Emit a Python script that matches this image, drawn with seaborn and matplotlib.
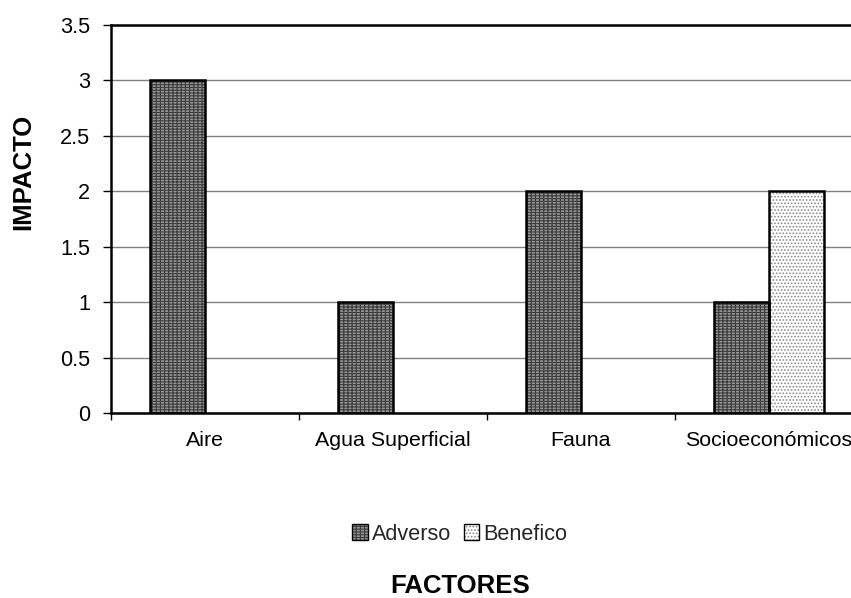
import matplotlib
matplotlib.use('Agg')
import matplotlib.pyplot as plt
import seaborn as sns
import pandas as pd
from matplotlib.patches import Rectangle, Patch
from matplotlib.ticker import FixedLocator
from matplotlib.legend_handler import HandlerTuple

categories = ['Aire', 'Agua Superficial', 'Fauna', 'Socioeconómicos']
series = ['Adverso', 'Benefico']
adverso = [3, 1, 2, 1]
benefico = [0, 0, 0, 2]
y_ticks = [0, 0.5, 1, 1.5, 2, 2.5, 3, 3.5]
y_tick_labels = ['0', '0.5', '1', '1.5', '2', '2.5', '3', '3.5']

df = pd.DataFrame({
    'Factor': categories * 2,
    'Serie': [series[0]] * len(categories) + [series[1]] * len(categories),
    'Impacto': adverso + benefico,
})

sns.set_theme(style='white')
plt.rcParams['font.family'] = ['Liberation Sans', 'DejaVu Sans']
plt.rcParams['hatch.linewidth'] = 0.8

W, H = 851, 598
fig = plt.figure(figsize=(W / 100, H / 100), dpi=100)
fig.patch.set_facecolor('white')
ax = fig.add_axes([111 / W, (H - 413) / H, (863 - 111) / W, (413 - 25) / H])

face = {'Adverso': '#969696', 'Benefico': '#ffffff'}
hcol = {'Adverso': '#3c3c3c', 'Benefico': '#8a8a8a'}
hatch = {'Adverso': '++++--', 'Benefico': '.....'}

sns.barplot(data=df, x='Factor', y='Impacto', hue='Serie', order=categories,
            hue_order=series, palette=[face[s] for s in series], width=0.58,
            gap=0, errorbar=None, saturation=1, legend=False, ax=ax, zorder=3)

for cont, s in zip(ax.containers, series):
    for p in cont.patches:
        p.set_facecolor(face[s])
        p.set_edgecolor(hcol[s])
        p.set_linewidth(0)
        p.set_hatch(hatch[s])
        if p.get_height() > 0:
            ax.add_patch(Rectangle(p.get_xy(), p.get_width(), p.get_height(),
                                   fill=False, edgecolor='black', linewidth=1.8,
                                   zorder=4))

ax.set_xlim(-0.5, len(categories) - 0.5)
ax.set_ylim(0, 3.5)
ax.set_yticks(y_ticks)
ax.set_yticklabels(y_tick_labels)
ax.yaxis.grid(True, color='#808080', linewidth=1.0, zorder=0)
ax.set_axisbelow(True)
ax.xaxis.set_minor_locator(FixedLocator([i - 0.5 for i in range(len(categories) + 1)]))
ax.tick_params(axis='x', which='major', length=0, pad=13, labelsize=15.4, colors='black')
ax.tick_params(axis='x', which='minor', length=5, width=1, color='black', direction='out', bottom=True)
ax.tick_params(axis='y', which='major', length=6, width=1, color='black', direction='out',
               left=True, pad=9, labelsize=15.6, labelcolor='black')
ax.set_xlabel('')
ax.set_ylabel('')
for side in ['left', 'bottom', 'top']:
    ax.spines[side].set_visible(True)
    ax.spines[side].set_color('black')
    ax.spines[side].set_linewidth(1.8)
ax.spines['right'].set_visible(False)

handles = [(Patch(facecolor=face[s], edgecolor=hcol[s], hatch=hatch[s], linewidth=0),
            Patch(facecolor='none', edgecolor='black', linewidth=1.0)) for s in series]
fig.legend(handles, series, loc='center', bbox_to_anchor=(460 / W, 1 - 534 / H),
           ncol=2, frameon=False, fontsize=15.6, handlelength=0.7, handleheight=0.7,
           handletextpad=0.2, columnspacing=0.6,
           handler_map={tuple: HandlerTuple(ndivide=1, pad=0)})

fig.text(23 / W, 1 - 172 / H, 'IMPACTO', rotation=90, ha='center', va='center',
         fontsize=18.5, fontweight='bold', color='black')
fig.text(460 / W, 1 - 586 / H, 'FACTORES', ha='center', va='center',
         fontsize=18.5, fontweight='bold', color='black')

fig.savefig('out.png', dpi=100, facecolor='white')
